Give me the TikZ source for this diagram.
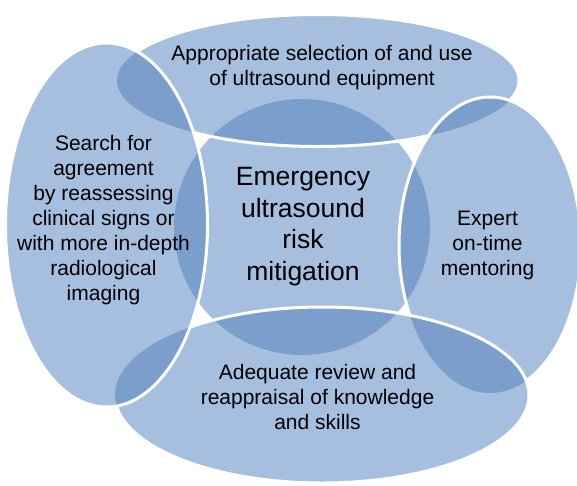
\documentclass[tikz,border=0pt]{standalone}
\usepackage{fontspec}
\setmainfont{Liberation Sans}
\definecolor{lightb}{RGB}{167,191,222}
\definecolor{darkb}{RGB}{124,158,204}
\begin{document}
\begin{tikzpicture}[x=1pt,y=-1pt,
  lbl/.style={align=center, font=\fontsize{21}{25}\selectfont, text=black, inner sep=0pt},
  ctr/.style={align=center, font=\fontsize{26.5}{31.7}\selectfont, text=black, inner sep=0pt},
  edgeline/.style={draw=white, line width=3pt}]
\useasboundingbox (0,0) rectangle (577,485);
\def\pC{(302,227) circle [radius=128pt]}
\def\pT{(318,80.5) ellipse [x radius=201pt, y radius=66pt]}
\def\pR{(490,245) ellipse [x radius=91pt, y radius=148pt]}
\def\pB{(322,395) ellipse [x radius=207pt, y radius=88pt]}
\def\pL{(106.5,225) ellipse [x radius=101pt, y radius=182pt]}
% centre circle
\fill[lightb] \pC;
% top
\fill[lightb] \pT;
\begin{scope}\clip \pT; \fill[darkb] \pC; \end{scope}
\draw[edgeline] \pT;
% right
\fill[lightb] \pR;
\begin{scope}\clip \pR; \fill[darkb] \pC; \fill[darkb] \pT; \end{scope}
\draw[edgeline] \pR;
% bottom
\fill[lightb] \pB;
\begin{scope}\clip \pB; \fill[darkb] \pC; \fill[darkb] \pT; \fill[darkb] \pR; \end{scope}
\draw[edgeline] \pB;
% left
\fill[lightb] \pL;
\begin{scope}\clip \pL; \fill[darkb] \pC; \fill[darkb] \pT; \fill[darkb] \pR; \fill[darkb] \pB; \end{scope}
\draw[edgeline] \pL;
% texts
\node[lbl] (tTop) at (322,67.5) {Appropriate selection of and use\\of ultrasound equipment};
\node[lbl] (tLeft) at (103.5,220) {Search for\\agreement\\by reassessing\\clinical signs or\\with more in-depth\\radiological\\imaging};
\node[lbl] (tRight) at (487.5,245) {Expert\\on-time\\mentoring};
\node[lbl] (tBot) at (317.5,397) {Adequate review and\\reappraisal of knowledge\\and skills};
\node[ctr] (tCtr) at (303,226.5) {Emergency\\ultrasound\\risk\\mitigation};
\end{tikzpicture}
\end{document}
